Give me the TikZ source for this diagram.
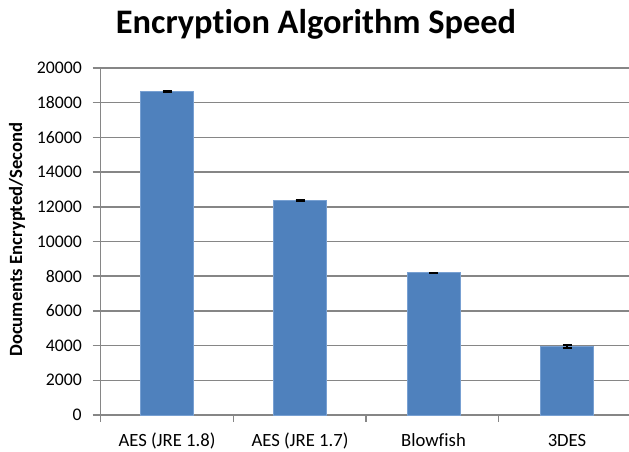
\documentclass[tikz,border=0pt]{standalone}
\usepackage{fontspec}
\setmainfont{Carlito}[Ligatures=CommonOff]
\usepackage{xcolor}
\definecolor{bar_blue}{RGB}{79, 129, 189}
\definecolor{bar_edge}{RGB}{120, 160, 210}
\definecolor{grid_grey}{RGB}{134, 134, 134}

\begin{document}
\begin{tikzpicture}[x=0.75pt, y=0.75pt,
		tick label/.style={anchor=east, inner sep=0pt, font=\fontsize{13.3}{15}\selectfont},
		cat label/.style={anchor=base, inner sep=0pt, font=\fontsize{14}{16}\selectfont},
		grid line/.style={grid_grey, line width=1.1pt},
		bar/.style={fill=bar_blue, draw=bar_edge, line width=0.6pt},
		err bar/.style={black, line width=1.4pt}]
				\useasboundingbox (0,0) rectangle (629,451);
				
				% Title
				\node[anchor=base, font=\fontsize{25.8}{30}\selectfont\bfseries] (title) at (316,417.7) {Encryption Algorithm Speed};
				\node[rotate=90, inner sep=0pt, font=\fontsize{14}{16}\selectfont\bfseries] (ytitle) at (17,211.5) {Documents Encrypted/Second};
				
				\begin{scope}[yshift=27pt, y=13.0125pt]
				% Draw the grid
				\draw[grid line] (92.5,2) -- (629,2);
				\draw[grid line] (92.5,4) -- (629,4);
				\draw[grid line] (92.5,6) -- (629,6);
				\draw[grid line] (92.5,8) -- (629,8);
				\draw[grid line] (92.5,10) -- (629,10);
				\draw[grid line] (92.5,12) -- (629,12);
				\draw[grid line] (92.5,14) -- (629,14);
				\draw[grid line] (92.5,16) -- (629,16);
				\draw[grid line] (92.5,18) -- (629,18);
				\draw[grid line] (92.5,20) -- (629,20);
				
				% Axes
				\draw[grid line] (100.5,-0.4) -- (100.5,20);
				\draw[grid line] (92.5,0) -- (629,0);
				\draw[grid line] (233.5,0) -- (233.5,-0.4);
				\draw[grid line] (366,0) -- (366,-0.4);
				\draw[grid line] (498.5,0) -- (498.5,-0.4);
				
				% Add value labels
				\node[tick label] (t0) at (82,0) {0};
				\node[tick label] (t2) at (82,2) {2000};
				\node[tick label] (t4) at (82,4) {4000};
				\node[tick label] (t6) at (82,6) {6000};
				\node[tick label] (t8) at (82,8) {8000};
				\node[tick label] (t10) at (82,10) {10000};
				\node[tick label] (t12) at (82,12) {12000};
				\node[tick label] (t14) at (82,14) {14000};
				\node[tick label] (t16) at (82,16) {16000};
				\node[tick label] (t18) at (82,18) {18000};
				\node[tick label] (t20) at (82,20) {20000};
				
				% Bars
				\draw[bar] (140.5,0) rectangle (193.5,18.67);
				\draw[bar] (273.5,0) rectangle (326.5,12.35);
				\draw[bar] (407,0) rectangle (460,8.20);
				\draw[bar] (540.5,0) rectangle (593.5,3.94);
				
				% Error bars
				\draw[err bar] (162.5,18.64) -- (171.5,18.64) (167,18.64) -- (167,18.70) (162.5,18.70) -- (171.5,18.70);
				\draw[err bar] (295.5,12.32) -- (304.5,12.32) (300,12.32) -- (300,12.38) (295.5,12.38) -- (304.5,12.38);
				\draw[err bar] (429,8.20) -- (438,8.20);
				\draw[err bar] (562.5,3.84) -- (571.5,3.84) (567,3.84) -- (567,4.04) (562.5,4.04) -- (571.5,4.04);
				\end{scope}
				
				% Category labels
				\node[cat label] (aes18) at (167,4.5) {AES (JRE 1.8)};
				\node[cat label] (aes17) at (300,4.5) {AES (JRE 1.7)};
				\node[cat label] (blowfish) at (433.5,4.5) {Blowfish};
				\node[cat label] (tdes) at (567,4.5) {3DES};
\end{tikzpicture}
\end{document}
